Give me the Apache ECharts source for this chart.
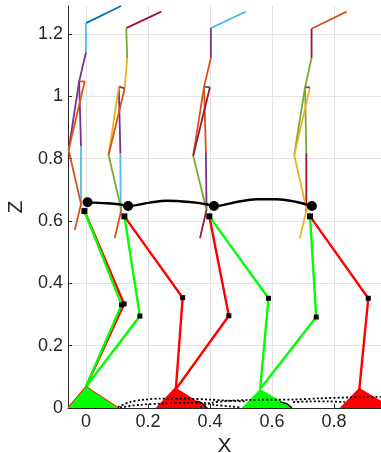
<!DOCTYPE html>
<html><head><meta charset="utf-8">
<script src="https://cdn.jsdelivr.net/npm/echarts@6/dist/echarts.min.js"></script>
<style>html,body{margin:0;padding:0;background:#fff}#c{width:381px;height:453px}</style>
</head><body><div id="c"></div>
<script>
// ---------------- data ----------------
const xTicks = [0, 0.2, 0.4, 0.6, 0.8];
const zTicks = [0, 0.2, 0.4, 0.6, 0.8, 1, 1.2];

// upper-body joints per pose: head, neck, chest, shoulderL, shoulderR, elbowA, wristA, elbowB, handB, lowB
const pose1X = [0.113, 0.000, 0.000, -0.022, -0.004, -0.016, -0.016, -0.056, -0.016, -0.036];
const pose1Z = [1.290, 1.235, 1.141, 1.048, 1.048, 0.839, 0.646, 0.828, 0.655, 0.571];
const pose2X = [0.243, 0.130, 0.133, 0.106, 0.125, 0.111, 0.112, 0.073, 0.114, 0.093];
const pose2Z = [1.272, 1.219, 1.123, 1.031, 1.026, 0.818, 0.625, 0.812, 0.636, 0.545];
const pose3X = [0.516, 0.403, 0.403, 0.381, 0.400, 0.387, 0.389, 0.346, 0.389, 0.368];
const pose3Z = [1.272, 1.219, 1.123, 1.031, 1.029, 0.818, 0.636, 0.809, 0.636, 0.545];
const pose4X = [0.841, 0.728, 0.728, 0.707, 0.723, 0.711, 0.711, 0.672, 0.712, 0.690];
const pose4Z = [1.272, 1.217, 1.123, 1.029, 1.029, 0.818, 0.630, 0.812, 0.636, 0.545];
const bonesA = [[0,1],[1,2],[2,3],[3,4],[3,5],[5,6],[3,7],[4,7],[7,8],[8,9]];
const bonesB = [[0,1],[1,2],[2,4],[3,4],[3,5],[5,6],[3,7],[4,7],[7,8],[8,9]];

// legs (one entry per pose)
const legHipX = [-0.005, 0.124, 0.398, 0.723];
const legHipZ = [0.632, 0.615, 0.615, 0.615];
const redKneeX = [0.123, 0.312, 0.461, 0.911];
const redKneeZ = [0.334, 0.354, 0.296, 0.352];
const redFootX = [0.000, 0.290, 0.290, 0.882];
const redFootZ = [0.068, 0.060, 0.060, 0.060];
const greenKneeX = [0.115, 0.174, 0.589, 0.743];
const greenKneeZ = [0.331, 0.295, 0.352, 0.292];
const greenFootX = [0.000, 0.000, 0.562, 0.562];
const greenFootZ = [0.068, 0.068, 0.061, 0.061];

// feet (triangles): apex, heel and toe on the ground
const footApexX = [0.000, 0.000, 0.288, 0.562, 0.882];
const footApexZ = [0.068, 0.068, 0.063, 0.061, 0.062];
const footHeelX = [-0.058, -0.058, 0.228, 0.502, 0.822];
const footToeX  = [0.104, 0.104, 0.390, 0.668, 0.985];
const footSide  = ['R', 'L', 'R', 'L', 'R'];

// hip trajectory
const hipPathX = [0.005, 0.067, 0.110, 0.136, 0.206, 0.260, 0.335, 0.389, 0.413, 0.486, 0.551, 0.615, 0.680, 0.729];
const hipPathZ = [0.660, 0.657, 0.653, 0.648, 0.659, 0.665, 0.661, 0.654, 0.648, 0.661, 0.670, 0.670, 0.661, 0.648];
const hipDotX = [0.005, 0.136, 0.413, 0.729];
const hipDotZ = [0.660, 0.648, 0.648, 0.648];

// swing-foot trajectories
const toe1X = [0.103, 0.142, 0.190, 0.239, 0.319, 0.400, 0.448, 0.513];
const toe1Z = [0.003, 0.019, 0.027, 0.030, 0.030, 0.027, 0.024, 0.021];
const toe2X = [0.110, 0.174, 0.239, 0.335, 0.384, 0.416, 0.465, 0.497];
const toe2Z = [0.002, 0.010, 0.014, 0.017, 0.016, 0.010, 0.005, 0.002];
const toe3X = [0.368, 0.400, 0.448, 0.529, 0.668, 0.755, 0.852, 0.952];
const toe3Z = [0.003, 0.016, 0.022, 0.026, 0.027, 0.031, 0.034, 0.036];
const toe4X = [0.668, 0.723, 0.787, 0.835];
const toe4Z = [0.019, 0.021, 0.021, 0.019];
const heel1X = [0.358, 0.375, 0.385, 0.390];
const heel1Z = [0.022, 0.015, 0.005, 0.000];
const heel2X = [0.626, 0.645, 0.658, 0.664];
const heel2Z = [0.020, 0.015, 0.006, 0.000];

// ---------------- styles ----------------
const P = {b:'#0072BD', o:'#D95319', y:'#EDB120', p:'#7E2F8E', g:'#77AC30', c:'#4DBEEE', r:'#A2142F'};
const poseColors = [
  [P.b, P.c, P.p, P.o, P.p, P.c, P.p, P.o, P.o, P.o],
  [P.r, P.g, P.y, P.p, P.p, P.c, P.y, P.o, P.g, P.o],
  [P.c, P.p, P.o, P.b, P.o, P.p, P.o, P.r, P.g, P.r],
  [P.o, P.r, P.g, P.p, P.g, P.r, P.g, P.y, P.y, P.y]
];
const RED = '#FF0000', GREEN = '#00FF00', INK = '#262626';

const zip = (xs, zs) => xs.map((x, i) => [x, zs[i]]);
const series = [];

// feet
series.push({
  type: 'custom', coordinateSystem: 'cartesian2d', clip: true, z: 1, silent: true,
  data: footApexX.map((x, i) => [x, footApexZ[i], footHeelX[i], footToeX[i], i]),
  encode: {x: [0, 2, 3], y: 1},
  renderItem: (params, api) => {
    const i = api.value(4);
    const pts = [api.coord([api.value(2), 0]), api.coord([api.value(0), api.value(1)]), api.coord([api.value(3), 0])];
    const isR = footSide[i] === 'R';
    return {type: 'polygon', shape: {points: pts},
      style: {fill: isR ? RED : GREEN, stroke: isR ? RED : null, lineWidth: isR ? 1.6 : 0}};
  }
});

// swing trajectories
[[toe1X, toe1Z], [toe2X, toe2Z], [toe3X, toe3Z], [toe4X, toe4Z]].forEach(([xs, zs]) => {
  series.push({type: 'line', data: zip(xs, zs), symbol: 'none', smooth: 0.3, z: 2, silent: true,
    lineStyle: {color: '#000', width: 1.8, type: [2, 2.2]}});
});
[[heel1X, heel1Z], [heel2X, heel2Z]].forEach(([xs, zs]) => {
  series.push({type: 'line', data: zip(xs, zs), symbol: 'none', smooth: 0.4, z: 2, silent: true,
    lineStyle: {color: '#000', width: 1.3}});
});

// legs
legHipX.forEach((hx, i) => {
  series.push({type: 'line', symbol: 'none', z: 3, silent: true,
    data: [[hx, legHipZ[i]], [redKneeX[i], redKneeZ[i]], [redFootX[i], redFootZ[i]]],
    lineStyle: {color: RED, width: 2.4}});
  series.push({type: 'line', symbol: 'none', z: 3, silent: true,
    data: [[hx, legHipZ[i]], [greenKneeX[i], greenKneeZ[i]], [greenFootX[i], greenFootZ[i]]],
    lineStyle: {color: GREEN, width: 2.4}});
});

// upper bodies
[[pose1X, pose1Z, bonesA], [pose2X, pose2Z, bonesB], [pose3X, pose3Z, bonesA], [pose4X, pose4Z, bonesA]].forEach(([xs, zs, bones], k) => {
  bones.forEach(([a, b], j) => {
    series.push({type: 'line', symbol: 'none', z: 4, silent: true,
      data: [[xs[a], zs[a]], [xs[b], zs[b]]],
      lineStyle: {color: poseColors[k][j], width: 1.8}});
  });
});

// hip trajectory and markers
series.push({type: 'line', data: zip(hipPathX, hipPathZ), symbol: 'none', smooth: 0.35, z: 5, silent: true,
  lineStyle: {color: '#000', width: 2.4}});
series.push({type: 'scatter', data: zip(hipDotX, hipDotZ), symbol: 'circle', symbolSize: 10, z: 6, silent: true,
  itemStyle: {color: '#000', opacity: 1}});
series.push({type: 'scatter', data: zip(legHipX, legHipZ), symbol: 'rect', symbolSize: 6, z: 6, silent: true,
  itemStyle: {color: '#000', opacity: 1}});
series.push({type: 'scatter', data: zip(redKneeX, redKneeZ).concat(zip(greenKneeX, greenKneeZ)), symbol: 'rect', symbolSize: 5, z: 6, silent: true,
  itemStyle: {color: '#000', opacity: 1}});

const chart = echarts.init(document.getElementById('c'), null, {renderer: 'canvas'});
chart.setOption({
  animation: false,
  backgroundColor: '#fff',
  grid: {left: 68, right: 0, top: 6, bottom: 45, containLabel: false, outerBoundsMode: 'none'},
  xAxis: {
    type: 'value', min: -0.058, max: 0.952,
    name: 'X', nameLocation: 'middle', nameGap: 21,
    nameTextStyle: {color: INK, fontSize: 21, fontFamily: 'Liberation Sans'},
    axisLine: {show: true, onZero: false, lineStyle: {color: INK, width: 1}},
    axisTick: {show: true, inside: true, length: 4, customValues: xTicks, lineStyle: {color: INK}},
    axisLabel: {customValues: xTicks, color: INK, fontSize: 18, fontFamily: 'Liberation Sans', margin: 5},
    splitLine: {show: true, lineStyle: {color: '#e3e3e3', width: 1}}
  },
  yAxis: {
    type: 'value', min: 0, max: 1.29,
    name: 'Z', nameLocation: 'middle', nameGap: 31, nameRotate: 90,
    nameTextStyle: {color: INK, fontSize: 21, fontFamily: 'Liberation Sans'},
    axisLine: {show: true, onZero: false, lineStyle: {color: INK, width: 1}},
    axisTick: {show: true, inside: true, length: 4, customValues: zTicks, lineStyle: {color: INK}},
    axisLabel: {customValues: zTicks, color: INK, fontSize: 18, fontFamily: 'Liberation Sans', margin: 5},
    splitLine: {show: true, lineStyle: {color: '#e3e3e3', width: 1}}
  },
  series: series
});
</script>
</body></html>
